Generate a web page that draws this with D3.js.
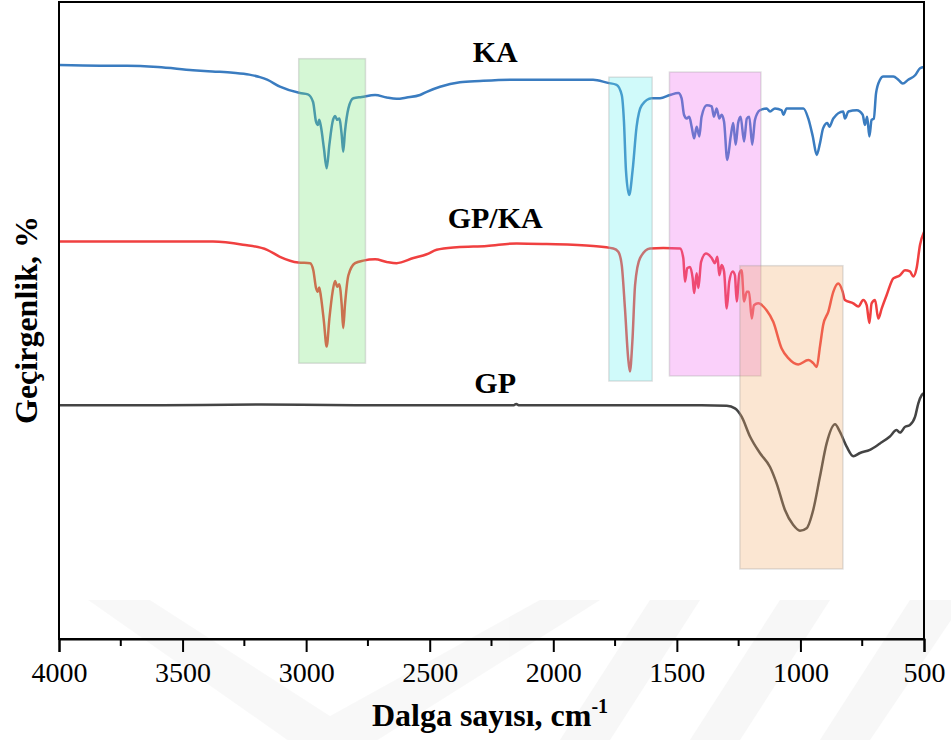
<!DOCTYPE html>
<html>
<head>
<meta charset="utf-8">
<script src="https://cdn.jsdelivr.net/npm/d3@7"></script>
<style>
  body { margin: 0; background: #fff; }
  svg { display: block; }
</style>
</head>
<body>
<div id="chart"></div>
<script>
// spectra: [wavenumber cm-1, offset transmittance a.u.]
const ka = [
  [4000,90.1],[3834,90.0],[3725,90.0],[3600,89.8],[3458,89.3],[3380,89.1],[3296,88.9],[3230,88.6],[3187,88.2],[3158,87.8],[3106,86.7],
  [3025,85.7],[2993,85.5],[2972,84.3],[2960,81.2],[2953,80.7],[2947,81.5],[2940,80.4],[2928,77.0],
  [2917,73.9],[2906,77.6],[2893,81.2],[2883,82.1],[2874,81.5],[2866,81.7],[2856,79.1],[2850,76.5],
  [2843,79.6],[2829,83.3],[2809,84.9],[2775,85.1],[2721,85.4],[2674,85.0],[2634,84.8],[2593,85.0],
  [2539,85.4],[2512,85.9],[2458,86.7],[2378,87.4],[2297,87.6],[2163,87.8],[2026,87.8],[1839,87.8],
  [1779,87.3],[1744,87.0],[1723,85.4],[1714,81.2],[1706,73.6],[1693,69.7],[1679,73.6],[1663,80.4],
  [1642,83.8],[1602,84.9],[1568,84.9],[1528,85.4],[1494,85.7],[1481,84.9],[1471,82.3],[1460,81.7],
  [1450,82.0],[1440,80.4],[1430,78.6],[1420,80.4],[1409,78.9],[1400,82.0],[1379,83.8],[1359,83.6],
  [1350,82.0],[1339,83.3],[1328,81.7],[1319,82.3],[1309,81.2],[1296,75.2],[1282,78.9],[1272,81.0],
  [1262,77.6],[1252,81.0],[1242,82.0],[1228,78.1],[1217,81.7],[1207,82.0],[1195,77.6],[1184,81.5],
  [1164,83.0],[1137,83.3],[1123,82.8],[1103,83.3],[1076,83.0],[1069,82.3],[1056,83.3],[988,83.3],
  [968,81.7],[950,78.9],[934,76.0],[921,77.8],[908,80.2],[891,81.0],[883,80.4],[867,81.7],
  [827,82.8],[820,81.7],[806,82.8],[772,83.0],[748,82.3],[739,80.7],[730,82.0],[721,78.9],
  [712,81.5],[703,81.7],[694,85.7],[678,87.8],[665,88.3],[624,88.3],[604,87.8],[586,87.2],
  [564,87.8],[536,88.5],[516,89.6],[500,89.8]
];
const gpka = [
  [4000,62.4],[3834,62.4],[3632,62.4],[3377,62.4],[3256,61.9],[3158,61.1],[3106,60.0],[3032,59.1],
  [2984,59.0],[2971,57.9],[2960,55.1],[2953,54.5],[2947,55.2],[2940,53.7],[2928,49.8],[2917,45.9],
  [2906,50.3],[2893,54.5],[2883,56.2],[2874,55.3],[2866,55.7],[2856,52.4],[2850,48.8],[2843,52.4],
  [2829,57.1],[2802,59.0],[2769,59.4],[2721,59.6],[2674,59.2],[2634,59.0],[2566,59.8],[2512,60.4],
  [2472,61.1],[2391,61.5],[2269,61.7],[2148,62.1],[2027,62.0],[1838,61.7],[1757,61.3],[1737,60.8],
  [1723,58.7],[1710,51.9],[1697,44.1],[1690,42.0],[1680,46.7],[1669,55.6],[1649,59.8],[1609,61.3],
  [1555,61.4],[1487,61.3],[1474,59.8],[1467,56.1],[1458,58.2],[1447,58.4],[1436,56.6],[1430,54.3],
  [1420,57.4],[1413,55.1],[1402,59.2],[1382,60.5],[1359,59.8],[1346,59.0],[1336,60.0],[1328,57.1],
  [1319,58.7],[1309,57.7],[1298,51.9],[1288,56.1],[1274,57.7],[1265,57.1],[1258,53.0],[1247,57.4],
  [1238,57.9],[1228,53.0],[1217,54.5],[1208,54.5],[1197,50.3],[1188,52.4],[1171,52.7],[1137,51.6],
  [1110,49.8],[1076,45.6],[1049,44.1],[1009,43.1],[968,43.8],[948,43.3],[934,42.7],[921,45.9],
  [908,49.3],[887,51.4],[867,54.5],[847,55.8],[829,54.5],[820,53.2],[786,52.7],[766,52.2],
  [746,53.2],[732,52.4],[721,49.6],[712,52.7],[698,53.2],[685,50.3],[671,51.9],[651,54.0],
  [624,56.6],[597,57.1],[577,57.9],[557,57.7],[543,56.9],[530,58.2],[516,61.9],[500,63.9]
];
const gp = [
  [4000,36.7],[3600,36.7],[3200,36.8],[2800,36.7],[2400,36.7],[2160,36.7],[2150,36.9],[2140,36.7],
  [1800,36.7],[1400,36.7],[1298,36.6],[1265,36.2],[1238,34.9],[1204,31.8],[1164,29.2],[1123,27.0],
  [1096,24.4],[1063,20.3],[1029,17.9],[1002,17.0],[975,17.4],[948,20.3],[921,25.5],[894,30.7],
  [860,33.7],[840,32.5],[813,30.2],[786,28.7],[759,29.2],[719,29.7],[678,30.7],[638,31.8],
  [611,32.8],[597,32.4],[577,33.3],[557,33.6],[536,34.9],[523,37.0],[509,38.3],[500,38.6]
];

// highlighted bands: [from, to, top, bottom]
const bands = [
  {range: [3030, 2760, 91.1, 43.3], fill: "#73e473"},
  {range: [1775, 1600, 88.2, 40.5], fill: "#62eeee"},
  {range: [1530, 1160, 89.0, 41.3], fill: "#ee62ee"},
  {range: [1245, 828, 58.6, 11.0], fill: "#f2ab69"}
];

const seriesNames = ["KA", "GP/KA", "GP"];
const seriesColors = ["#3a7cc0", "#f04040", "#444444"];
const labelPos = [[2235, 90.6], [2235, 64.5], [2235, 38.6]];
const xTicks = [4000, 3500, 3000, 2500, 2000, 1500, 1000, 500];
const xMinor = [3750, 3250, 2750, 2250, 1750, 1250, 750];

const W = 951, H = 740;
const serif = "Liberation Serif";
const svg = d3.select("#chart").append("svg")
  .attr("width", W).attr("height", H);

//faint watermark behind the plot
const wm = svg.append("g").attr("fill", "#000").attr("opacity", 0.028);
wm.append("path").attr("d", "M88,600 L150,600 L330,716 L540,600 L600,600 L330,770 Z");
wm.append("path").attr("d", "M560,740 L650,600 L700,600 L610,740 Z");
wm.append("path").attr("d", "M690,740 L780,600 L830,600 L740,740 Z");
wm.append("path").attr("d", "M820,740 L910,600 L951,600 L951,620 L870,740 Z");

//scales
const x = d3.scaleLinear().domain([4000, 500]).range([59, 924]);
const y = d3.scaleLinear().domain([0, 100]).range([639, 2]);

const line = d3.line()
  .x(d => x(d[0]))
  .y(d => y(d[1]))
  .curve(d3.curveMonotoneX);

[ka, gpka, gp].forEach((s, i) => {
  svg.append("path")
    .datum(s)
    .attr("fill", "none")
    .attr("stroke", seriesColors[i])
    .attr("stroke-width", 2.5)
    .attr("stroke-linejoin", "round")
    .attr("d", line);
});

//bands drawn over the lines
svg.append("g").selectAll("rect")
  .data(bands)
  .enter().append("rect")
  .attr("x", d => x(d.range[0]))
  .attr("width", d => x(d.range[1]) - x(d.range[0]))
  .attr("y", d => y(d.range[2]))
  .attr("height", d => y(d.range[3]) - y(d.range[2]))
  .attr("fill", d => d.fill)
  .attr("fill-opacity", 0.3)
  .attr("stroke", "#999")
  .attr("stroke-opacity", 0.3)
  .attr("stroke-width", 1.5);

//series labels
svg.append("g").selectAll("text")
  .data(seriesNames)
  .enter().append("text")
  .attr("x", (d, i) => x(labelPos[i][0]))
  .attr("y", (d, i) => y(labelPos[i][1]))
  .attr("text-anchor", "middle")
  .attr("font-family", serif)
  .attr("font-weight", "bold")
  .attr("font-size", 30)
  .text(d => d);

//frame
svg.append("rect")
  .attr("x", 59).attr("y", 2)
  .attr("width", 924 - 59).attr("height", 639 - 2)
  .attr("fill", "none")
  .attr("stroke", "#000")
  .attr("stroke-width", 2);

//x axis
const xAxis = svg.append("g")
  .attr("transform", "translate(0,639)")
  .call(d3.axisBottom(x).tickValues(xTicks).tickSize(13).tickPadding(10).tickFormat(d3.format("d")))
  .attr("font-family", serif)
  .attr("font-size", 28);
xAxis.select(".domain").attr("stroke-width", 2);
xAxis.selectAll(".tick line").attr("stroke-width", 2);
xAxis.selectAll(".tick text").attr("fill", "#000");

svg.append("g").selectAll("line")
  .data(xMinor)
  .enter().append("line")
  .attr("x1", d => x(d)).attr("x2", d => x(d))
  .attr("y1", 639).attr("y2", 646)
  .attr("stroke", "#000")
  .attr("stroke-width", 2);

//axis titles
const xt = svg.append("text")
  .attr("x", 490).attr("y", 726)
  .attr("text-anchor", "middle")
  .attr("font-family", serif)
  .attr("font-weight", "bold")
  .attr("font-size", 32);
xt.append("tspan").text("Dalga sayısı, cm");
xt.append("tspan").attr("dy", -13).attr("font-size", 20).text("-1");

svg.append("text")
  .attr("transform", "translate(37,320) rotate(-90)")
  .attr("text-anchor", "middle")
  .attr("font-family", serif)
  .attr("font-weight", "bold")
  .attr("font-size", 32)
  .text("Geçirgenlik, %");
</script>
</body>
</html>
